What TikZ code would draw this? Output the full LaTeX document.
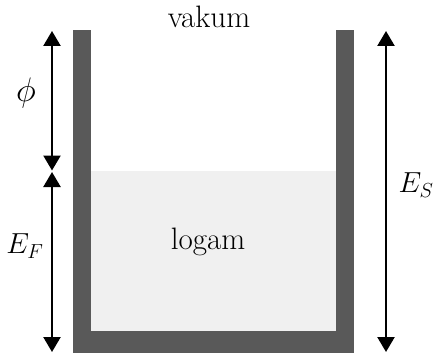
\RequirePackage{fix-cm}
\documentclass[tikz,border=0pt]{standalone}
\usetikzlibrary{arrows.meta}
\definecolor{wallgray}{HTML}{595959}
\definecolor{liquid}{HTML}{F0F0F0}
\begin{document}
\begin{tikzpicture}[x=1pt,y=-1pt,
  dimarrow/.style={line width=2.4pt,{Triangle[length=15pt,width=17pt]}-{Triangle[length=15pt,width=17pt]}},
  txt/.style={font=\fontsize{31}{36}\selectfont,inner sep=0pt,anchor=base},
  mathlbl/.style={font=\fontsize{29}{34}\selectfont,inner sep=0pt}]
\useasboundingbox (0,0) rectangle (434,353);
% container
\fill[liquid] (91,171) rectangle (336,331);
\fill[wallgray] (73,30) rectangle (91,353);
\fill[wallgray] (336,30) rectangle (354,353);
\fill[wallgray] (73,331) rectangle (354,353);
% texts
\node[txt] (vakum) at (209,28) {vakum};
\node[txt] (logam) at (208,249) {logam};
% arrows
\coordinate (phitop) at (52,31);
\coordinate (phibot) at (52,170.5);
\coordinate (eftop) at (52,172);
\coordinate (efbot) at (52,352);
\coordinate (estop) at (386,31);
\coordinate (esbot) at (386,352);
\draw[dimarrow] (phitop) -- (phibot);
\draw[dimarrow] (eftop) -- (efbot);
\draw[dimarrow] (estop) -- (esbot);
% labels
\node[mathlbl,font=\fontsize{34}{40}\selectfont] (phi) at (26,93) {$\phi$};
\node[mathlbl] (ef) at (25,246) {$E_F$};
\node[mathlbl] (es) at (416,185) {$E_S$};
\end{tikzpicture}
\end{document}
